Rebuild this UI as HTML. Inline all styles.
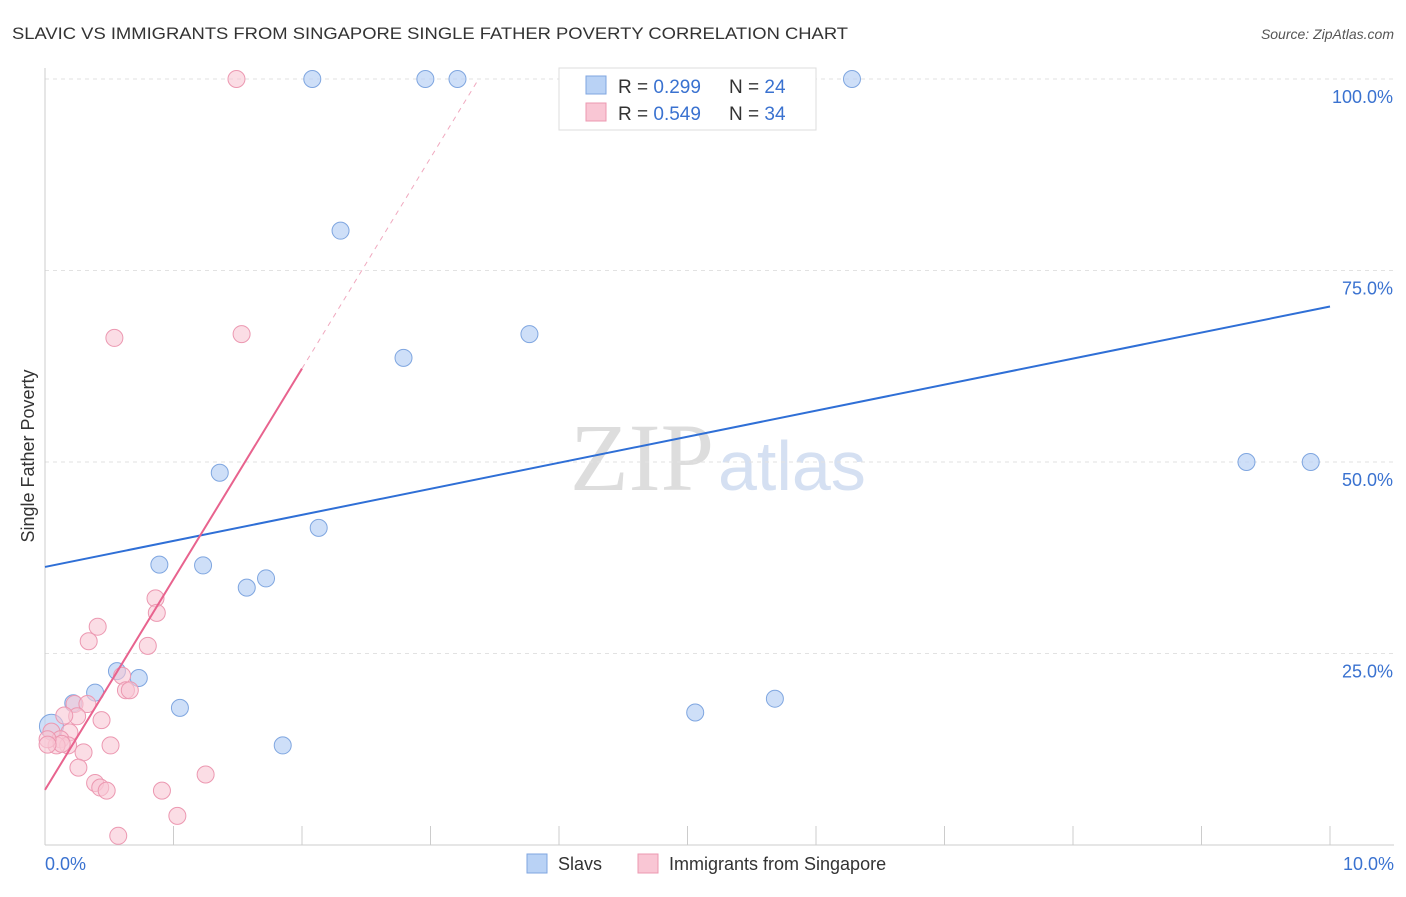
<!DOCTYPE html>
<html><head><meta charset="utf-8"><style>
body{margin:0;background:#fff;font-family:"Liberation Sans",sans-serif}
</style></head><body>
<svg width="1406" height="892" xmlns="http://www.w3.org/2000/svg" id="chart">
<text x="12" y="39" font-size="17" fill="#333" textLength="836" lengthAdjust="spacingAndGlyphs">SLAVIC VS IMMIGRANTS FROM SINGAPORE SINGLE FATHER POVERTY CORRELATION CHART</text>
<text x="1394" y="39" font-size="14" fill="#555" font-style="italic" text-anchor="end">Source: ZipAtlas.com</text>
<text x="714" y="490" font-size="96" fill="#ddd" font-family="Liberation Serif" text-anchor="end">ZIP</text>
<text x="718" y="490" font-size="70" fill="#d5e0f2">atlas</text>
<text x="34" y="456" font-size="18" fill="#333" text-anchor="middle" transform="rotate(-90 34 456)">Single Father Poverty</text>
<g id="grid"></g><g id="marks"></g>
<g>
<rect x="559" y="68" width="257" height="62" fill="#fff" stroke="#ddd"/>
<rect x="586" y="76" width="20" height="18" fill="#b9d2f5" stroke="#7fa6e0"/>
<rect x="586" y="103" width="20" height="18" fill="#f9c6d4" stroke="#ec98b1"/>
<text x="618" y="93" font-size="19" fill="#333">R = <tspan fill="#3a72d0">0.299</tspan></text>
<text x="729" y="93" font-size="19" fill="#333">N = <tspan fill="#3a72d0">24</tspan></text>
<text x="618" y="120" font-size="19" fill="#333">R = <tspan fill="#3a72d0">0.549</tspan></text>
<text x="729" y="120" font-size="19" fill="#333">N = <tspan fill="#3a72d0">34</tspan></text>
</g>
<g>
<rect x="527" y="854" width="20" height="19" fill="#b9d2f5" stroke="#7fa6e0"/>
<text x="558" y="870" font-size="18" fill="#333">Slavs</text>
<rect x="638" y="854" width="20" height="19" fill="#f9c6d4" stroke="#ec98b1"/>
<text x="669" y="870" font-size="18" fill="#333">Immigrants from Singapore</text>
</g>
</svg>
<script>
const xTicks=[0,1,2,3,4,5,6,7,8,9,10];
const yTicks=[25,50,75,100];
const slavX=[2.08,2.96,3.21,6.28,2.30,2.79,3.77,1.36,9.35,9.85,2.13,0.89,1.23,1.72,1.57,0.56,0.73,0.39,1.05,5.06,5.68,1.85,0.05,0.22];
const slavY=[100,100,100,100,80.2,63.6,66.7,48.6,50,50,41.4,36.6,36.5,34.8,33.6,22.7,21.8,19.9,17.9,17.3,19.1,13.0,15.5,18.5];
const singX=[1.49,0.54,1.53,0.86,0.87,0.41,0.34,0.80,0.60,0.63,0.66,0.23,0.33,0.25,0.44,0.05,0.19,0.12,0.18,0.09,0.13,0.51,0.30,0.26,1.25,0.39,0.43,0.48,0.91,1.03,0.57,0.02,0.15,0.02];
const singY=[100,66.2,66.7,32.2,30.3,28.5,26.6,26.0,22.1,20.2,20.2,18.4,18.4,16.8,16.3,14.8,14.7,13.8,13.0,13.0,13.2,13.0,12.1,10.1,9.2,8.1,7.5,7.1,7.1,3.8,1.2,13.8,16.9,13.1];
const slavTrend=[36.3,70.3];
const singTrend=[7.2,27.5];
const NS="http://www.w3.org/2000/svg";
const X=v=>45+v*128.5, Y=v=>845-v*7.66;
function mk(t,a,p){const e=document.createElementNS(NS,t);for(const k in a)e.setAttribute(k,a[k]);p.appendChild(e);return e;}
const g=document.getElementById('grid'),m=document.getElementById('marks');
for(const t of yTicks){
 const l=mk('line',{x1:45,x2:1394,y1:Y(t),y2:Y(t),stroke:'#e2e2e2','stroke-dasharray':'4,4'},g);
 
 
 const tx=mk('text',{x:1393,y:Y(t)+24,'font-size':18,fill:'#3a72d0','text-anchor':'end'},g);tx.textContent=t.toFixed(1)+'%';
 
 
}
mk('line',{x1:45,x2:45,y1:68,y2:845,stroke:'#ccc'},g);
mk('line',{x1:45,x2:1394,y1:845,y2:845,stroke:'#ccc'},g);
for(const t of xTicks){const l=mk('line',{x1:X(t),x2:X(t),y1:826,y2:845,stroke:'#ccc'},g);
 
 }
let a=mk('text',{x:45,y:870,'font-size':18,fill:'#3a72d0'},g);a.textContent=xTicks[0].toFixed(1)+'%';


a=mk('text',{x:1394,y:870,'font-size':18,fill:'#3a72d0','text-anchor':'end'},g);a.textContent=xTicks[xTicks.length-1].toFixed(1)+'%';


for(let i=0;i<slavX.length;i++){const c=mk('circle',{cx:X(slavX[i]),cy:Y(slavY[i]),r:i==22?12:8.5,fill:'#b9d2f5','fill-opacity':0.7,stroke:'#7fa6e0','stroke-width':1},m);
 
 }
for(let i=0;i<singX.length;i++){const c=mk('circle',{cx:X(singX[i]),cy:Y(singY[i]),r:8.5,fill:'#f9c6d4','fill-opacity':0.6,stroke:'#ec98b1','stroke-width':1},m);
 
 }
let ln=mk('line',{x1:X(0),y1:Y(slavTrend[0]),x2:X(10),y2:Y(slavTrend[1]),stroke:'#2f6fd6','stroke-width':2},m);


const xe=2;
ln=mk('line',{x1:X(0),y1:Y(singTrend[0]),x2:X(xe),y2:Y(singTrend[0]+singTrend[1]*xe),stroke:'#e8638e','stroke-width':2},m);


const x100=(100-singTrend[0])/singTrend[1];
ln=mk('line',{x1:X(xe),y1:Y(singTrend[0]+singTrend[1]*xe),x2:X(x100),y2:Y(100),stroke:'#f0a9bf','stroke-width':1,'stroke-dasharray':'5,5'},m);


</script>
</body></html>
